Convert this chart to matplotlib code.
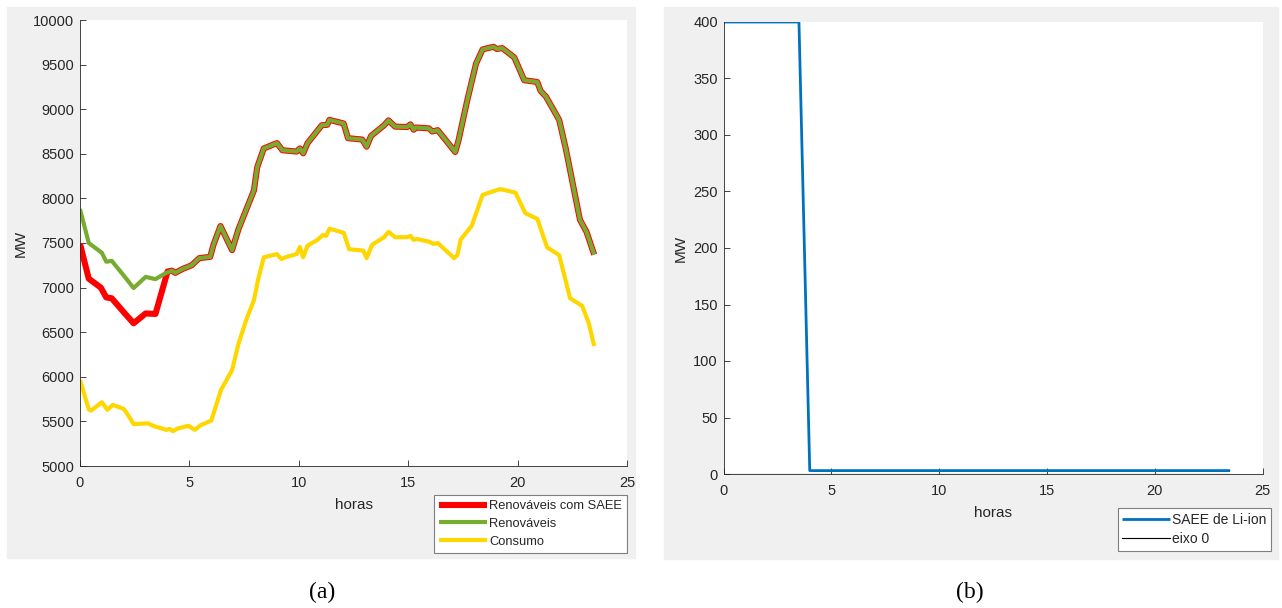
import numpy as np
import matplotlib.pyplot as plt
from matplotlib.patches import Rectangle

# (a) renewables / consumption, MW (hours)
green_h = [0.0, 0.4, 1.0, 1.2, 1.45, 2.05, 2.45, 3.0, 3.45, 3.9, 4.2, 4.35, 4.7, 5.1,
           5.45, 5.95, 6.1, 6.42, 6.95, 7.25, 7.95, 8.1, 8.4, 9.0, 9.25, 9.9, 10.05,
           10.2, 10.4, 11.05, 11.3, 11.4, 12.05, 12.25, 12.9, 13.1, 13.3, 13.9, 14.1,
           14.4, 14.95, 15.1, 15.25, 15.35, 15.95, 16.1, 16.35, 17.15, 17.3, 17.7,
           18.1, 18.4, 18.9, 19.05, 19.3, 19.85, 20.1, 20.3, 20.9, 21.05, 21.3, 21.9,
           22.2, 22.85, 23.15, 23.5]
green_mw = [7880, 7500, 7390, 7290, 7300, 7120, 6995, 7120, 7095, 7160, 7190, 7165, 7210, 7250,
            7330, 7345, 7480, 7690, 7420, 7660, 8090, 8350, 8560, 8620, 8540, 8525, 8560,
            8505, 8620, 8820, 8825, 8880, 8840, 8675, 8660, 8580, 8700, 8820, 8875,
            8805, 8800, 8830, 8770, 8795, 8785, 8750, 8765, 8520, 8650, 9100,
            9510, 9670, 9700, 9675, 9685, 9580, 9440, 9325, 9305, 9205, 9140, 8880,
            8560, 7760, 7625, 7370]

# with storage: differs from green only while the battery discharges (0-4 h)
red_h_start = [0.0, 0.4, 0.95, 1.2, 1.45, 2.05, 2.45, 3.0, 3.45, 4.0]
red_mw_start = [7490, 7100, 7000, 6890, 6880, 6710, 6600, 6710, 6705, 7180]

cons_h = [0.0, 0.4, 0.5, 1.0, 1.25, 1.5, 2.0, 2.2, 2.45, 3.1, 3.35, 3.95, 4.1, 4.25, 4.45,
          4.95, 5.25, 5.5, 6.0, 6.45, 6.95, 7.25, 7.6, 7.95, 8.15, 8.4, 9.0, 9.2, 9.45,
          9.9, 10.05, 10.2, 10.4, 10.85, 11.1, 11.25, 11.4, 12.05, 12.3, 12.95, 13.1,
          13.35, 13.9, 14.1, 14.4, 14.95, 15.1, 15.25, 15.4, 15.95, 16.15, 16.35, 17.1,
          17.25, 17.4, 17.9, 18.4, 19.2, 19.9, 20.35, 20.9, 21.35, 21.9, 22.4, 22.95,
          23.25, 23.5]
cons_mw = [5965, 5635, 5620, 5715, 5630, 5685, 5640, 5570, 5470, 5478, 5450, 5405, 5415, 5390, 5420,
           5450, 5405, 5455, 5510, 5855, 6075, 6375, 6640, 6860, 7100, 7340, 7375, 7320, 7345,
           7375, 7455, 7340, 7470, 7535, 7590, 7580, 7660, 7615, 7430, 7415, 7330,
           7480, 7565, 7625, 7565, 7565, 7580, 7535, 7545, 7515, 7490, 7500, 7330,
           7365, 7540, 7690, 8040, 8105, 8065, 7835, 7770, 7450, 7365, 6880, 6795,
           6605, 6345]

# (b) Li-ion storage output
saee_h = [0.0, 3.5, 4.0, 23.5]
saee_mw = [400, 400, 3, 3]
eixo_h = [0.0, 23.5]
eixo_mw = [0, 0]

red_h = red_h_start + [h for h in green_h if h > red_h_start[-1]]
red_mw = red_mw_start + [v for h, v in zip(green_h, green_mw) if h > red_h_start[-1]]

plt.rcParams['font.family'] = ['Liberation Sans', 'DejaVu Sans']
plt.rcParams['font.size'] = 10
dark = '#262626'

W, H = 1282, 608
fig = plt.figure(figsize=(W / 100, H / 100), dpi=100)

# grey panel backgrounds
fig.patches.append(Rectangle((7 / W, 1 - 558 / H), 628 / W, 551 / H,
                             transform=fig.transFigure, color='#f0f0f0', zorder=-10))
fig.patches.append(Rectangle((664 / W, 1 - 559 / H), 614 / W, 552 / H,
                             transform=fig.transFigure, color='#f0f0f0', zorder=-10))

ax1 = fig.add_axes([80 / W, 1 - 466 / H, 547 / W, 446 / H])
ax2 = fig.add_axes([723.5 / W, 1 - 474 / H, 539 / W, 452 / H])

ax1.plot(red_h, red_mw, color='#ff0000', lw=4.4, solid_capstyle='butt',
         label='Renováveis com SAEE')
ax1.plot(green_h, green_mw, color='#77ac30', lw=3.0, solid_capstyle='butt',
         label='Renováveis')
ax1.plot(cons_h, cons_mw, color='#ffd700', lw=3.0, solid_capstyle='butt',
         label='Consumo')
ax1.set_xlim(0, 25)
ax1.set_ylim(5000, 10000)
ax1.set_yticks(np.arange(5000, 10001, 500))

ax2.plot(saee_h, saee_mw, color='#0072bd', lw=2.0, solid_capstyle='butt',
         label='SAEE de Li-ion')
ax2.plot(eixo_h, eixo_mw, color='black', lw=0.8, label='eixo 0')
ax2.set_xlim(0, 25)
ax2.set_ylim(0, 400)
ax2.set_yticks(np.arange(0, 401, 50))

for ax in (ax1, ax2):
    ax.set_facecolor('white')
    ax.set_xticks(np.arange(0, 26, 5))
    for s in ('top', 'right'):
        ax.spines[s].set_visible(False)
    for s in ('left', 'bottom'):
        ax.spines[s].set_color(dark)
        ax.spines[s].set_linewidth(0.6)
    ax.tick_params(direction='in', length=4, width=0.6, color=dark, labelcolor=dark,
                   labelsize=10.5)
    ax.tick_params(axis='x', pad=7)
    ax.tick_params(axis='y', pad=4)
    ax.set_xlabel('horas', fontsize=11, color=dark, labelpad=6)
    ax.set_ylabel('MW', fontsize=11, color=dark, labelpad=4)

leg1 = ax1.legend(loc='lower right', bbox_to_anchor=(627 / W, 1 - 553 / H),
                  bbox_transform=fig.transFigure, borderaxespad=0, fontsize=9.3,
                  handlelength=3.7, handletextpad=0.15, labelspacing=0.45,
                  borderpad=0.4, fancybox=False, framealpha=1)
leg2 = ax2.legend(loc='lower right', bbox_to_anchor=(1271 / W, 1 - 551 / H),
                  bbox_transform=fig.transFigure, borderaxespad=0, fontsize=10,
                  handlelength=3.4, handletextpad=0.15, labelspacing=0.35,
                  borderpad=0.35, fancybox=False, framealpha=1)
for leg in (leg1, leg2):
    leg.get_frame().set_edgecolor('#7f7f7f')
    leg.get_frame().set_linewidth(0.8)
    for t in leg.get_texts():
        t.set_color(dark)

fig.text(322 / W, 1 - 592 / H, '(a)', ha='center', va='center', fontsize=17,
         family='Liberation Serif')
fig.text(970 / W, 1 - 592 / H, '(b)', ha='center', va='center', fontsize=17,
         family='Liberation Serif')

fig.savefig('out.png', dpi=100)
